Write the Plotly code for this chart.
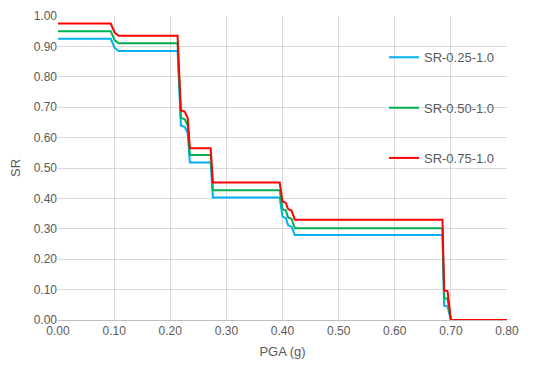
import plotly.graph_objects as go

pga = [0, 0.094, 0.101, 0.108, 0.213, 0.219, 0.226, 0.231, 0.235, 0.272, 0.276,
       0.395, 0.400, 0.406, 0.410, 0.416, 0.422, 0.685, 0.688, 0.694, 0.700, 0.800]
sr_025 = [0.925, 0.925, 0.895, 0.885, 0.885, 0.64, 0.635, 0.615, 0.518, 0.518, 0.403,
          0.403, 0.34, 0.335, 0.312, 0.307, 0.28, 0.28, 0.047, 0.045, 0.0, 0.0]
sr_050 = [0.95, 0.95, 0.92, 0.91, 0.91, 0.665, 0.66, 0.64, 0.543, 0.543, 0.427,
          0.427, 0.365, 0.36, 0.337, 0.333, 0.302, 0.302, 0.072, 0.07, 0.0, 0.0]
sr_075 = [0.975, 0.975, 0.945, 0.935, 0.935, 0.69, 0.685, 0.665, 0.565, 0.565, 0.452,
          0.452, 0.39, 0.385, 0.365, 0.36, 0.33, 0.33, 0.097, 0.095, 0.0, 0.0]

names = ["SR-0.25-1.0", "SR-0.50-1.0", "SR-0.75-1.0"]
colors = ["#00b0f0", "#00b050", "#ff0000"]
series = [sr_025, sr_050, sr_075]
legends = ["legend", "legend2", "legend3"]

fig = go.Figure()
for name, col, ys, lg in zip(names, colors, series, legends):
    fig.add_trace(go.Scatter(x=pga, y=ys, mode="lines", name=name, showlegend=True,
                             line=dict(color=col, width=2), legend=lg))

font_col = "#595959"
fam = "Liberation Sans, Arial, sans-serif"
leg_common = dict(x=0.726, xanchor="left", yanchor="middle", bgcolor="rgba(0,0,0,0)",
                  font=dict(size=13, color=font_col, family=fam))

fig.update_layout(
    width=534, height=352,
    margin=dict(l=50, r=35, t=8, b=40),
    showlegend=True,
    paper_bgcolor="white", plot_bgcolor="white",
    font=dict(family=fam, color=font_col, size=12),
    legend=dict(y=0.864, **leg_common),
    legend2=dict(y=0.698, **leg_common),
    legend3=dict(y=0.533, **leg_common),
    xaxis=dict(range=[0, 0.8], dtick=0.1, tick0=0, tickformat=".2f", automargin=False,
               showgrid=True, gridcolor="#d9d9d9", gridwidth=1,
               zeroline=False, showline=True, linecolor="#bfbfbf", linewidth=1,
               ticks="", tickfont=dict(size=12, color=font_col),
               title=dict(text="PGA (g)", font=dict(size=13, color=font_col), standoff=9)),
    yaxis=dict(range=[0, 1.0], dtick=0.1, tick0=0, tickformat=".2f", automargin=False,
               showgrid=True, gridcolor="#d9d9d9", gridwidth=1,
               zeroline=False, showline=False, ticks="",
               tickfont=dict(size=12, color=font_col),
               title=dict(text="SR", font=dict(size=13, color=font_col), standoff=10)),
)

fig.write_html("out.html")
